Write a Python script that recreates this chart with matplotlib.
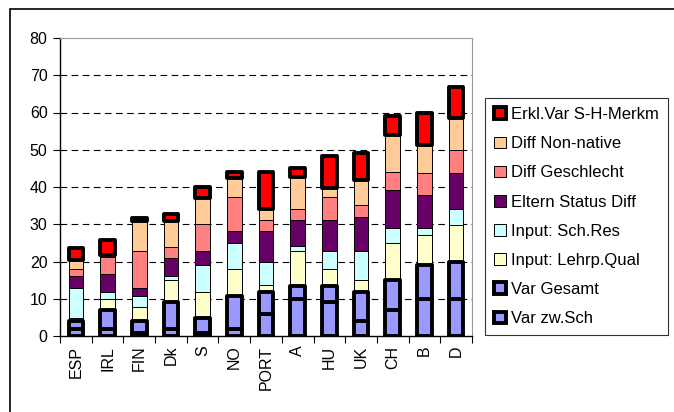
import matplotlib
matplotlib.use("Agg")
import matplotlib.pyplot as plt
from matplotlib.patches import Rectangle
import numpy as np

plt.rcParams['font.family'] = ['Liberation Sans', 'DejaVu Sans']

laender = ["ESP", "IRL", "FIN", "Dk", "S", "NO", "PORT", "A", "HU", "UK", "CH", "B", "D"]

var_zw_sch = [2, 2, 0.7, 2, 0.7, 2, 6, 10, 9, 4, 7, 10, 10]
var_gesamt = [2, 5, 3.3, 7, 4.1, 8.8, 5.8, 3.5, 4.5, 7.7, 8, 9, 9.8]
lehrp_qual = [0.7, 3, 3.8, 6, 7.1, 7.2, 2, 9.3, 4.4, 3.2, 10.1, 8, 10.1]
sch_res = [8.2, 1.8, 3, 1, 7.2, 7.1, 6, 1.3, 4.9, 7.9, 4, 1.9, 4.1]
eltern = [3.1, 4.9, 2.2, 5, 3.8, 3.1, 8.4, 7, 8.3, 9.2, 10.1, 8.9, 9.7]
geschlecht = [1.9, 4.4, 9.8, 3, 7.1, 9, 3, 3, 6.1, 3.1, 4.8, 6, 6.1]
non_native = [2.6, 0.7, 8, 6.8, 7, 5.2, 2.8, 8.6, 2.4, 6.8, 9.9, 7.6, 8.8]
erkl_var = [3.2, 4, 1, 2, 2.9, 1.6, 10, 2.3, 8.7, 7.1, 5.2, 8.5, 8.2]

# (label, values, fill colour, thick black edge?)
reihen = [
    ("Var zw.Sch", var_zw_sch, "#9999FF", True),
    ("Var Gesamt", var_gesamt, "#9999FF", True),
    ("Input: Lehrp.Qual", lehrp_qual, "#FFFFCC", False),
    ("Input: Sch.Res", sch_res, "#CCFFFF", False),
    ("Eltern Status Diff", eltern, "#660066", False),
    ("Diff Geschlecht", geschlecht, "#FF8080", False),
    ("Diff Non-native", non_native, "#FFCC99", False),
    ("Erkl.Var S-H-Merkm", erkl_var, "#FF0000", True),
]

fig = plt.figure(figsize=(6.74, 4.12), dpi=100)
ax = fig.add_axes([60 / 674, 1 - 336 / 412, 412 / 674, 298 / 412])

x = np.arange(len(laender))
unten = np.zeros(len(laender))
handles = []
for name, werte, farbe, dick in reihen:
    werte = np.array(werte, dtype=float)
    b = ax.bar(x, werte, 0.46, bottom=unten, color=farbe, edgecolor="black",
               linewidth=2.8 if dick else 0.7, zorder=4 if dick else 3,
               joinstyle="round", label=name)
    handles.append(b)
    unten += werte

ax.set_xlim(-0.5, len(laender) - 0.5)
ax.set_ylim(0, 80)
ax.set_yticks(range(0, 81, 10))
ax.set_xticks(x)
ax.set_xticklabels(laender, rotation=90, fontsize=11.5)
ax.set_xticks(np.arange(-0.5, len(laender)), minor=True)
ax.tick_params(axis="x", which="major", length=0, pad=7)
ax.tick_params(axis="x", which="minor", length=5, width=0.8, direction="out")
ax.tick_params(axis="y", length=5, width=0.8, direction="out", labelsize=11.5, pad=4)

for y in range(10, 80, 10):
    ax.axhline(y, color="black", linewidth=0.8, linestyle=(0, (6, 4)), zorder=1)

for s in ["top", "right"]:
    ax.spines[s].set_color("#9a9a9a")
for s in ["left", "bottom"]:
    ax.spines[s].set_color("black")
    ax.spines[s].set_linewidth(1.0)

leg = fig.legend(handles[::-1], [r[0] for r in reihen][::-1],
                 loc="upper left", bbox_to_anchor=(485 / 674, 1 - 98 / 412),
                 fontsize=12, frameon=True, fancybox=False, edgecolor="black",
                 labelspacing=0.85, handlelength=0.7, handleheight=0.7,
                 handletextpad=0.3, borderpad=0.55, borderaxespad=0)
leg.get_frame().set_linewidth(0.8)

# outer chart frame
fig.patches.append(Rectangle((10 / 674, -0.1), 1.2, 1.1 - 9 / 412, fill=False,
                             edgecolor="black", linewidth=1.2,
                             transform=fig.transFigure, figure=fig))

fig.savefig("out.png", dpi=100)
